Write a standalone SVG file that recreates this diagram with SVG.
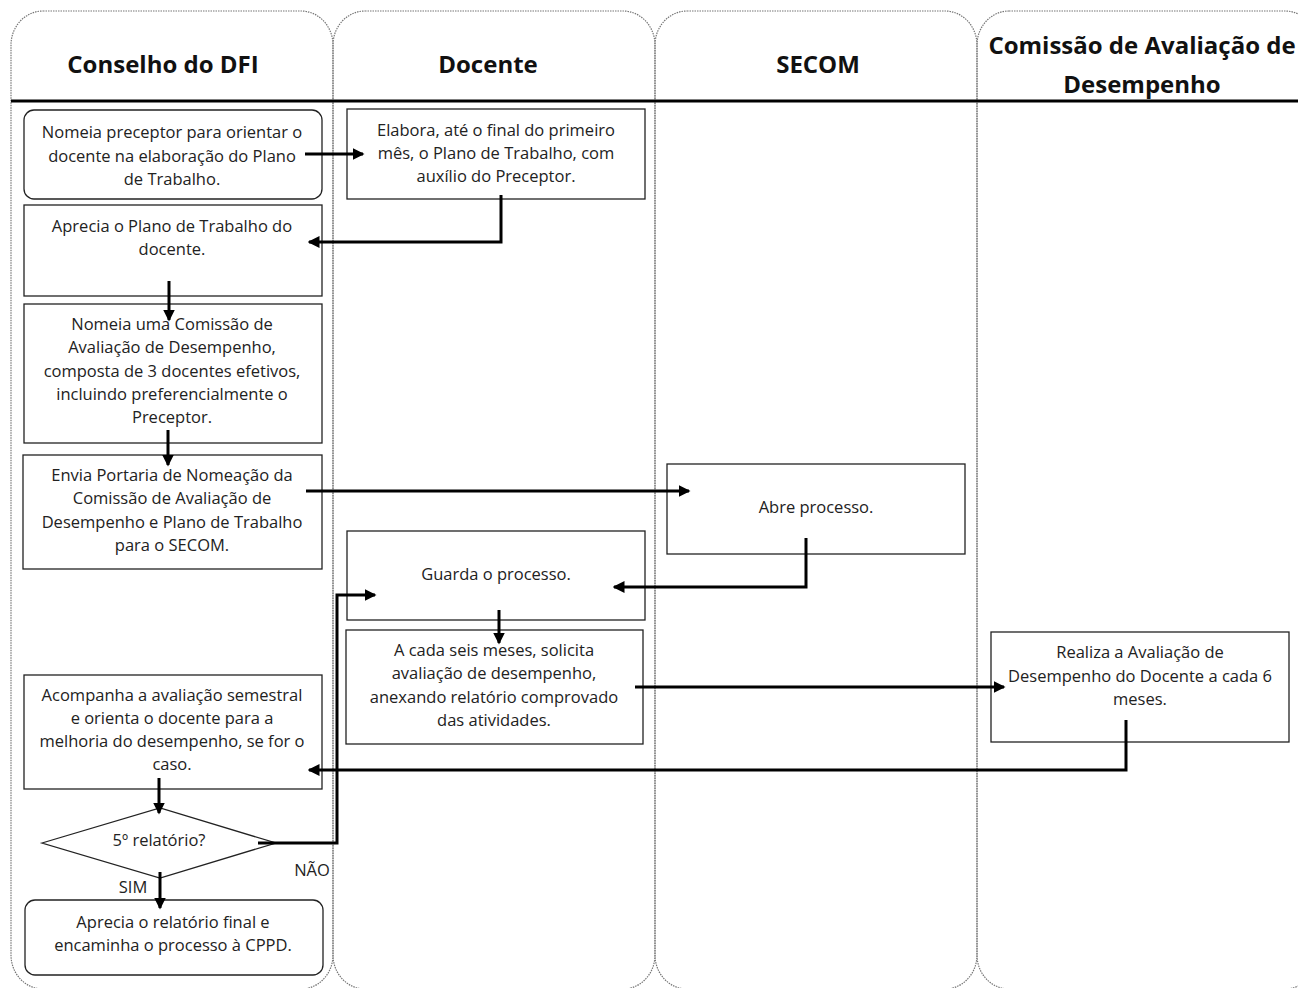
<svg xmlns="http://www.w3.org/2000/svg" width="1298" height="988" viewBox="0 0 1298 988">
<defs>
<marker id="ah" markerWidth="4" markerHeight="4" refX="3.5" refY="2" orient="auto" markerUnits="strokeWidth">
<path d="M0,0 L4,2 L0,4 Z" fill="#000"/>
</marker>
<style>
.lane{fill:none;stroke:#777;stroke-width:1.2;stroke-dasharray:1.5 1}
.hd{font-family:"Open Sans","Liberation Sans",sans-serif;font-weight:700;font-size:24px;fill:#111;text-anchor:middle}
.box{fill:#fff;stroke:#222;stroke-width:1.3}
.t{font-family:"Open Sans","Liberation Sans",sans-serif;font-size:16.5px;fill:#222;text-anchor:middle}
.c{fill:none;stroke:#000;stroke-width:3;marker-end:url(#ah)}
</style>
</defs>
<rect width="1298" height="988" fill="#fff"/>
<g id="lanes">
<rect class="lane" x="11" y="11" width="322" height="978" rx="32" ry="34"/>
<rect class="lane" x="333" y="11" width="322" height="978" rx="32" ry="34"/>
<rect class="lane" x="655" y="11" width="322" height="978" rx="32" ry="34"/>
<rect class="lane" x="977" y="11" width="340" height="978" rx="32" ry="34"/>
<line x1="11" y1="101" x2="1298" y2="101" stroke="#000" stroke-width="3"/>
<text class="hd" x="163" y="73">Conselho do DFI</text>
<text class="hd" x="488" y="73">Docente</text>
<text class="hd" x="818" y="73">SECOM</text>
<text class="hd" x="1142" y="54">Comissão de Avaliação de</text>
<text class="hd" x="1142" y="93">Desempenho</text>
</g>
<g id="n1">
<rect class="box" x="24" y="110" width="298" height="89" rx="10"/>
<text class="t" x="172" y="138">Nomeia preceptor para orientar o</text>
<text class="t" x="172" y="162">docente na elaboração do Plano</text>
<text class="t" x="172" y="185">de Trabalho.</text>
</g>
<g id="n2">
<rect class="box" x="347" y="109" width="298" height="90"/>
<text class="t" x="496" y="136">Elabora, até o final do primeiro</text>
<text class="t" x="496" y="159">mês, o Plano de Trabalho, com</text>
<text class="t" x="496" y="182">auxílio do Preceptor.</text>
</g>
<g id="n3">
<rect class="box" x="24" y="205" width="298" height="91"/>
<text class="t" x="172" y="232">Aprecia o Plano de Trabalho do</text>
<text class="t" x="172" y="255">docente.</text>
</g>
<g id="n4">
<rect class="box" x="24" y="304" width="298" height="139"/>
<text class="t" x="172" y="330">Nomeia uma Comissão de</text>
<text class="t" x="172" y="353">Avaliação de Desempenho,</text>
<text class="t" x="172" y="377">composta de 3 docentes efetivos,</text>
<text class="t" x="172" y="400">incluindo preferencialmente o</text>
<text class="t" x="172" y="423">Preceptor.</text>
</g>
<g id="n5">
<rect class="box" x="23" y="455" width="299" height="114"/>
<text class="t" x="172" y="481">Envia Portaria de Nomeação da</text>
<text class="t" x="172" y="504">Comissão de Avaliação de</text>
<text class="t" x="172" y="528">Desempenho e Plano de Trabalho</text>
<text class="t" x="172" y="551">para o SECOM.</text>
</g>
<g id="n6">
<rect class="box" x="667" y="464" width="298" height="90"/>
<text class="t" x="816" y="513">Abre processo.</text>
</g>
<g id="n7">
<rect class="box" x="347" y="531" width="298" height="89"/>
<text class="t" x="496" y="580">Guarda o processo.</text>
</g>
<g id="n8">
<rect class="box" x="346" y="630" width="297" height="114"/>
<text class="t" x="494" y="656">A cada seis meses, solicita</text>
<text class="t" x="494" y="679">avaliação de desempenho,</text>
<text class="t" x="494" y="703">anexando relatório comprovado</text>
<text class="t" x="494" y="726">das atividades.</text>
</g>
<g id="n9">
<rect class="box" x="991" y="632" width="298" height="110"/>
<text class="t" x="1140" y="658">Realiza a Avaliação de</text>
<text class="t" x="1140" y="682">Desempenho do Docente a cada 6</text>
<text class="t" x="1140" y="705">meses.</text>
</g>
<g id="n10">
<rect class="box" x="24" y="675" width="298" height="114"/>
<text class="t" x="172" y="701">Acompanha a avaliação semestral</text>
<text class="t" x="172" y="724">e orienta o docente para a</text>
<text class="t" x="172" y="747">melhoria do desempenho, se for o</text>
<text class="t" x="172" y="770">caso.</text>
</g>
<g id="n11">
<polygon class="box" points="42,843 160,808 276,843 160,878" stroke-width="1"/>
<text class="t" x="159" y="846">5º relatório?</text>
</g>
<g id="n12">
<rect class="box" x="25" y="900" width="298" height="75" rx="10"/>
<text class="t" x="173" y="928">Aprecia o relatório final e</text>
<text class="t" x="173" y="951">encaminha o processo à CPPD.</text>
</g>
<g id="connectors">
<path class="c" d="M305,154 H363"/>
<path class="c" d="M501,195 V242 H309"/>
<path class="c" d="M169,281 V320"/>
<path class="c" d="M168,430 V465"/>
<path class="c" d="M306,491 H689"/>
<path class="c" d="M806,538 V587 H614"/>
<path class="c" d="M499,610 V643"/>
<path class="c" d="M635,687 H1004"/>
<path class="c" d="M1126,720 V770 H309"/>
<path class="c" d="M159,778 V813"/>
<path class="c" d="M258,843 H337 V595 H375"/>
<path class="c" d="M160,872 V908"/>
<text class="t" x="312" y="876">NÃO</text>
<text class="t" x="133" y="893">SIM</text>
</g>
</svg>
